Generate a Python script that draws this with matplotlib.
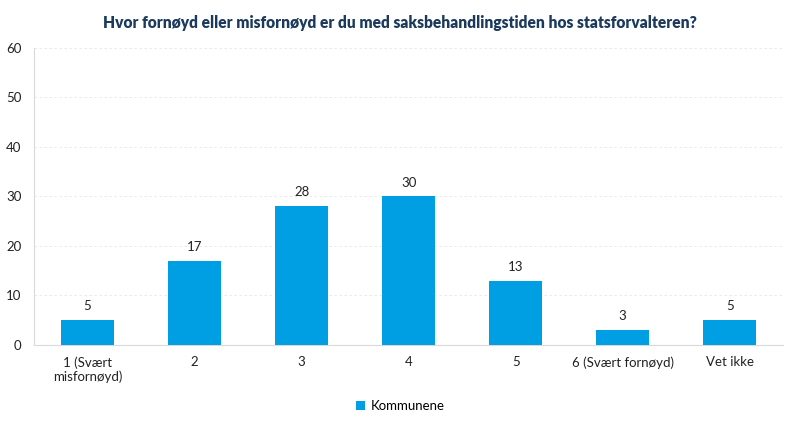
import matplotlib
matplotlib.use("Agg")
import matplotlib.pyplot as plt
import numpy as np

categories = ['1 (Svært\nmisfornøyd)', '2', '3', '4', '5', '6 (Svært fornøyd)', 'Vet ikke']
values = [5, 17, 28, 30, 13, 3, 5]
series_name = 'Kommunene'

plt.rcParams['font.family'] = ['Lato', 'DejaVu Sans']

fig = plt.figure(figsize=(8, 4.28), dpi=100)
ax = fig.add_axes([0.0425, 0.194, 0.9365, 0.694])

x = np.arange(len(categories))
ax.bar(x, values, width=0.5, color='#009FE3', label=series_name, zorder=3)
for xi, v in zip(x, values):
    ax.text(xi, v + 1.6, str(v), ha='center', va='bottom', fontsize=9.5, color='#222222')

ax.set_xlim(-0.5, len(categories) - 0.5)
ax.set_ylim(0, 60)
ax.set_yticks(range(0, 61, 10))
ax.set_xticks(x)
ax.set_xticklabels(categories, fontsize=9.5, color='#222222')
ax.tick_params(axis='y', labelsize=9.5, colors='#222222', length=0, pad=9)
ax.tick_params(axis='x', length=0, pad=8)
ax.grid(axis='y', color='#e6e6e6', linestyle=(0, (3, 3)), linewidth=0.6, zorder=0)
for s in ['top', 'right']:
    ax.spines[s].set_visible(False)
ax.spines['left'].set_color('#d9d9d9')
ax.spines['bottom'].set_color('#d9d9d9')

fig.suptitle('Hvor fornøyd eller misfornøyd er du med saksbehandlingstiden hos statsforvalteren?',
             x=0.5, y=0.965, fontsize=11.2, fontweight='heavy', color='#1B3A5C')

fig.legend(loc='lower center', bbox_to_anchor=(0.5, 0.01), frameon=False, fontsize=9.5,
           handlelength=0.7, handleheight=0.7, handletextpad=0.4)

fig.savefig('out.png', dpi=100, facecolor='white')
